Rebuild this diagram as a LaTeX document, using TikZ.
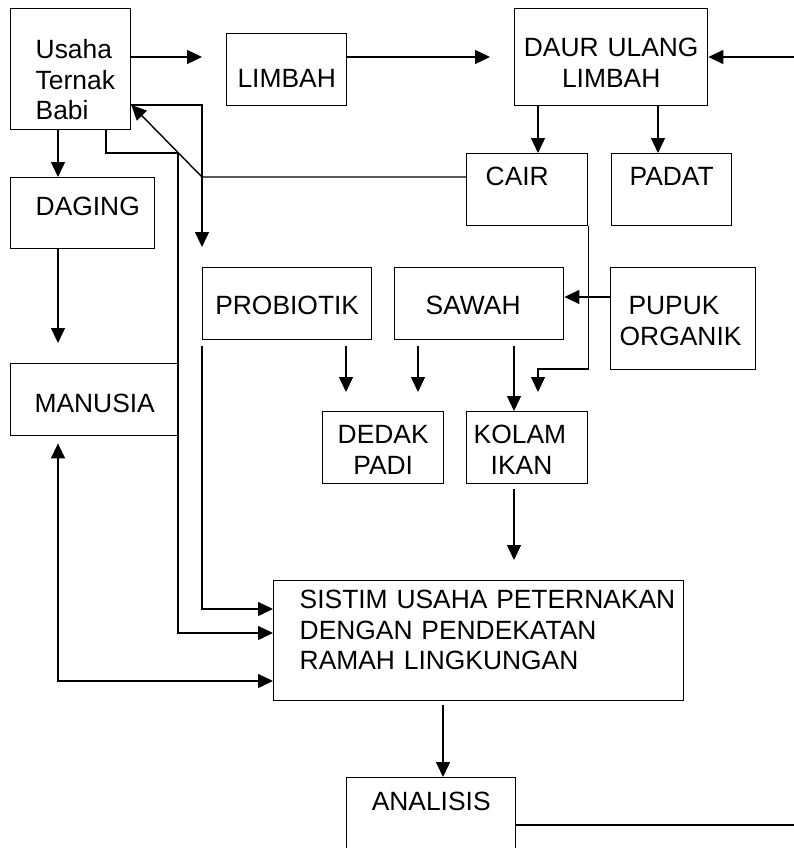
\documentclass[tikz,border=0pt]{standalone}
\usepackage{fontspec}
\setmainfont{Liberation Sans}
\usetikzlibrary{arrows.meta,calc}
\hyphenpenalty=10000
\newcommand\boxfont{\fontsize{26.4}{30.5}\selectfont}
\tikzset{
  box/.style={draw,line width=1.4pt,anchor=north west,inner xsep=0pt,inner ysep=0pt,
              font=\boxfont,align=center},
  arr/.style={line width=1.4pt,-{Triangle[length=15pt,width=14pt]}},
  arrboth/.style={line width=1.4pt,{Triangle[length=15pt,width=14pt]}-{Triangle[length=15pt,width=14pt]}}
}

\begin{document}
\begin{tikzpicture}[x=1pt,y=-1pt]
\useasboundingbox (0,0) rectangle (794,848);
\clip (0,0) rectangle (794,848);
\fill[white] (0,0) rectangle (794,848);

\node[box,align=left,inner xsep=25pt,text width=70pt,text height=50pt,text depth=71pt] (usaha) at (10,8) {Usaha\\Ternak\\Babi};
\node[box,text width=120pt,text height=54pt,text depth=18pt] (limbah) at (226,33) {LIMBAH};
\node[box,text width=193pt,text height=48pt,text depth=49pt] (daur) at (514,8) {DAUR ULANG\\LIMBAH};
\node[box,align=left,inner xsep=19pt,text width=83pt,text height=32pt,text depth=40pt] (cair) at (466,153) {CAIR};
\node[box,text width=120pt,text height=32pt,text depth=40pt] (padat) at (611,153) {PADAT};
\node[box,align=left,inner xsep=25pt,text width=94pt,text height=38pt,text depth=33pt] (daging) at (10,177) {DAGING};
\node[box,text width=169pt,text height=47pt,text depth=25pt] (probiotik) at (202,267) {PROBIOTIK};
\node[box,align=left,inner xsep=31pt,text width=107pt,text height=47pt,text depth=25pt] (sawah) at (394,267) {SAWAH};
\node[box,align=left,inner xsep=9pt,text width=127pt,text height=47pt,text depth=55pt] (pupuk) at (610,267) {\ PUPUK\\ORGANIK};
\node[box,text width=168pt,text height=49pt,text depth=23pt] (manusia) at (10,363) {MANUSIA};
\node[box,text width=121pt,text height=32pt,text depth=40pt] (dedak) at (322,411) {DEDAK\\PADI};
\node[box,align=left,inner xsep=7pt,text width=107pt,text height=32pt,text depth=40pt] (kolam) at (466,411) {KOLAM\\\hspace*{17pt}IKAN};
\node[box,align=left,inner xsep=26pt,text width=358pt,text height=28pt,text depth=92pt] (sistim) at (273,580) {SISTIM~USAHA~PETERNAKAN\\DENGAN~PENDEKATAN\\RAMAH~LINGKUNGAN};
\node[box,text width=169pt,text height=33pt,text depth=67pt] (analisis) at (346,777) {ANALISIS};

\coordinate (limbah-in) at (202,57);
\coordinate (daur-in) at (490,57);
\coordinate (loop) at (820,57);

\draw[arr] (usaha.east |- limbah-in) -- (limbah-in);
\draw[arr] (limbah.east |- daur-in) -- (daur-in);
\draw[arr] (analisis.east |- 0,825) -| (loop) -- (daur.east |- loop);
\draw[arr] (daur.south -| 538,0) -- (cair.north -| 538,0);
\draw[arr] (daur.south -| 658,0) -- (padat.north -| 658,0);
\draw[arr] (cair.west |- 0,177) -- (202,177) -- (usaha.east |- 0,105);
\draw[arr] (usaha.east |- 0,105) -| ($(probiotik.north west)+(0,-20)$);
\draw[arr] (usaha.south -| 106,0) |- (178,153) |- (sistim.west |- 0,633);
\draw[arr] ($(probiotik.south west)+(0,6)$) |- (sistim.west |- 0,609);
\draw[arrboth] ($(manusia.south -| 58,0)+(0,7)$) |- (sistim.west |- 0,681);
\draw[arr] (usaha.south -| 58,0) -- (daging.north -| 58,0);
\draw[arr] (daging.south -| 58,0) -- ($(manusia.north -| 58,0)+(0,-20)$);
\draw[arr] ($(probiotik.south -| 346,0)+(0,6)$) -- ($(dedak.north -| 346,0)+(0,-19)$);
\draw[arr] ($(sawah.south -| 418,0)+(0,6)$) -- ($(dedak.north -| 418,0)+(0,-19)$);
\draw[arr] ($(sawah.south -| 514,0)+(0,6)$) -- (kolam.north -| 514,0);
\draw[arr] (cair.south east) |- (538,369) -- ($(kolam.north -| 538,0)+(0,-19)$);
\draw[arr] (pupuk.west |- 0,297) -- (sawah.east |- 0,297);
\draw[arr] ($(kolam.south -| 514,0)+(0,5)$) -- ($(sistim.north -| 514,0)+(0,-20)$);
\draw[arr] ($(sistim.south -| 443,0)+(0,4)$) -- (analisis.north -| 443,0);
\end{tikzpicture}
\end{document}
